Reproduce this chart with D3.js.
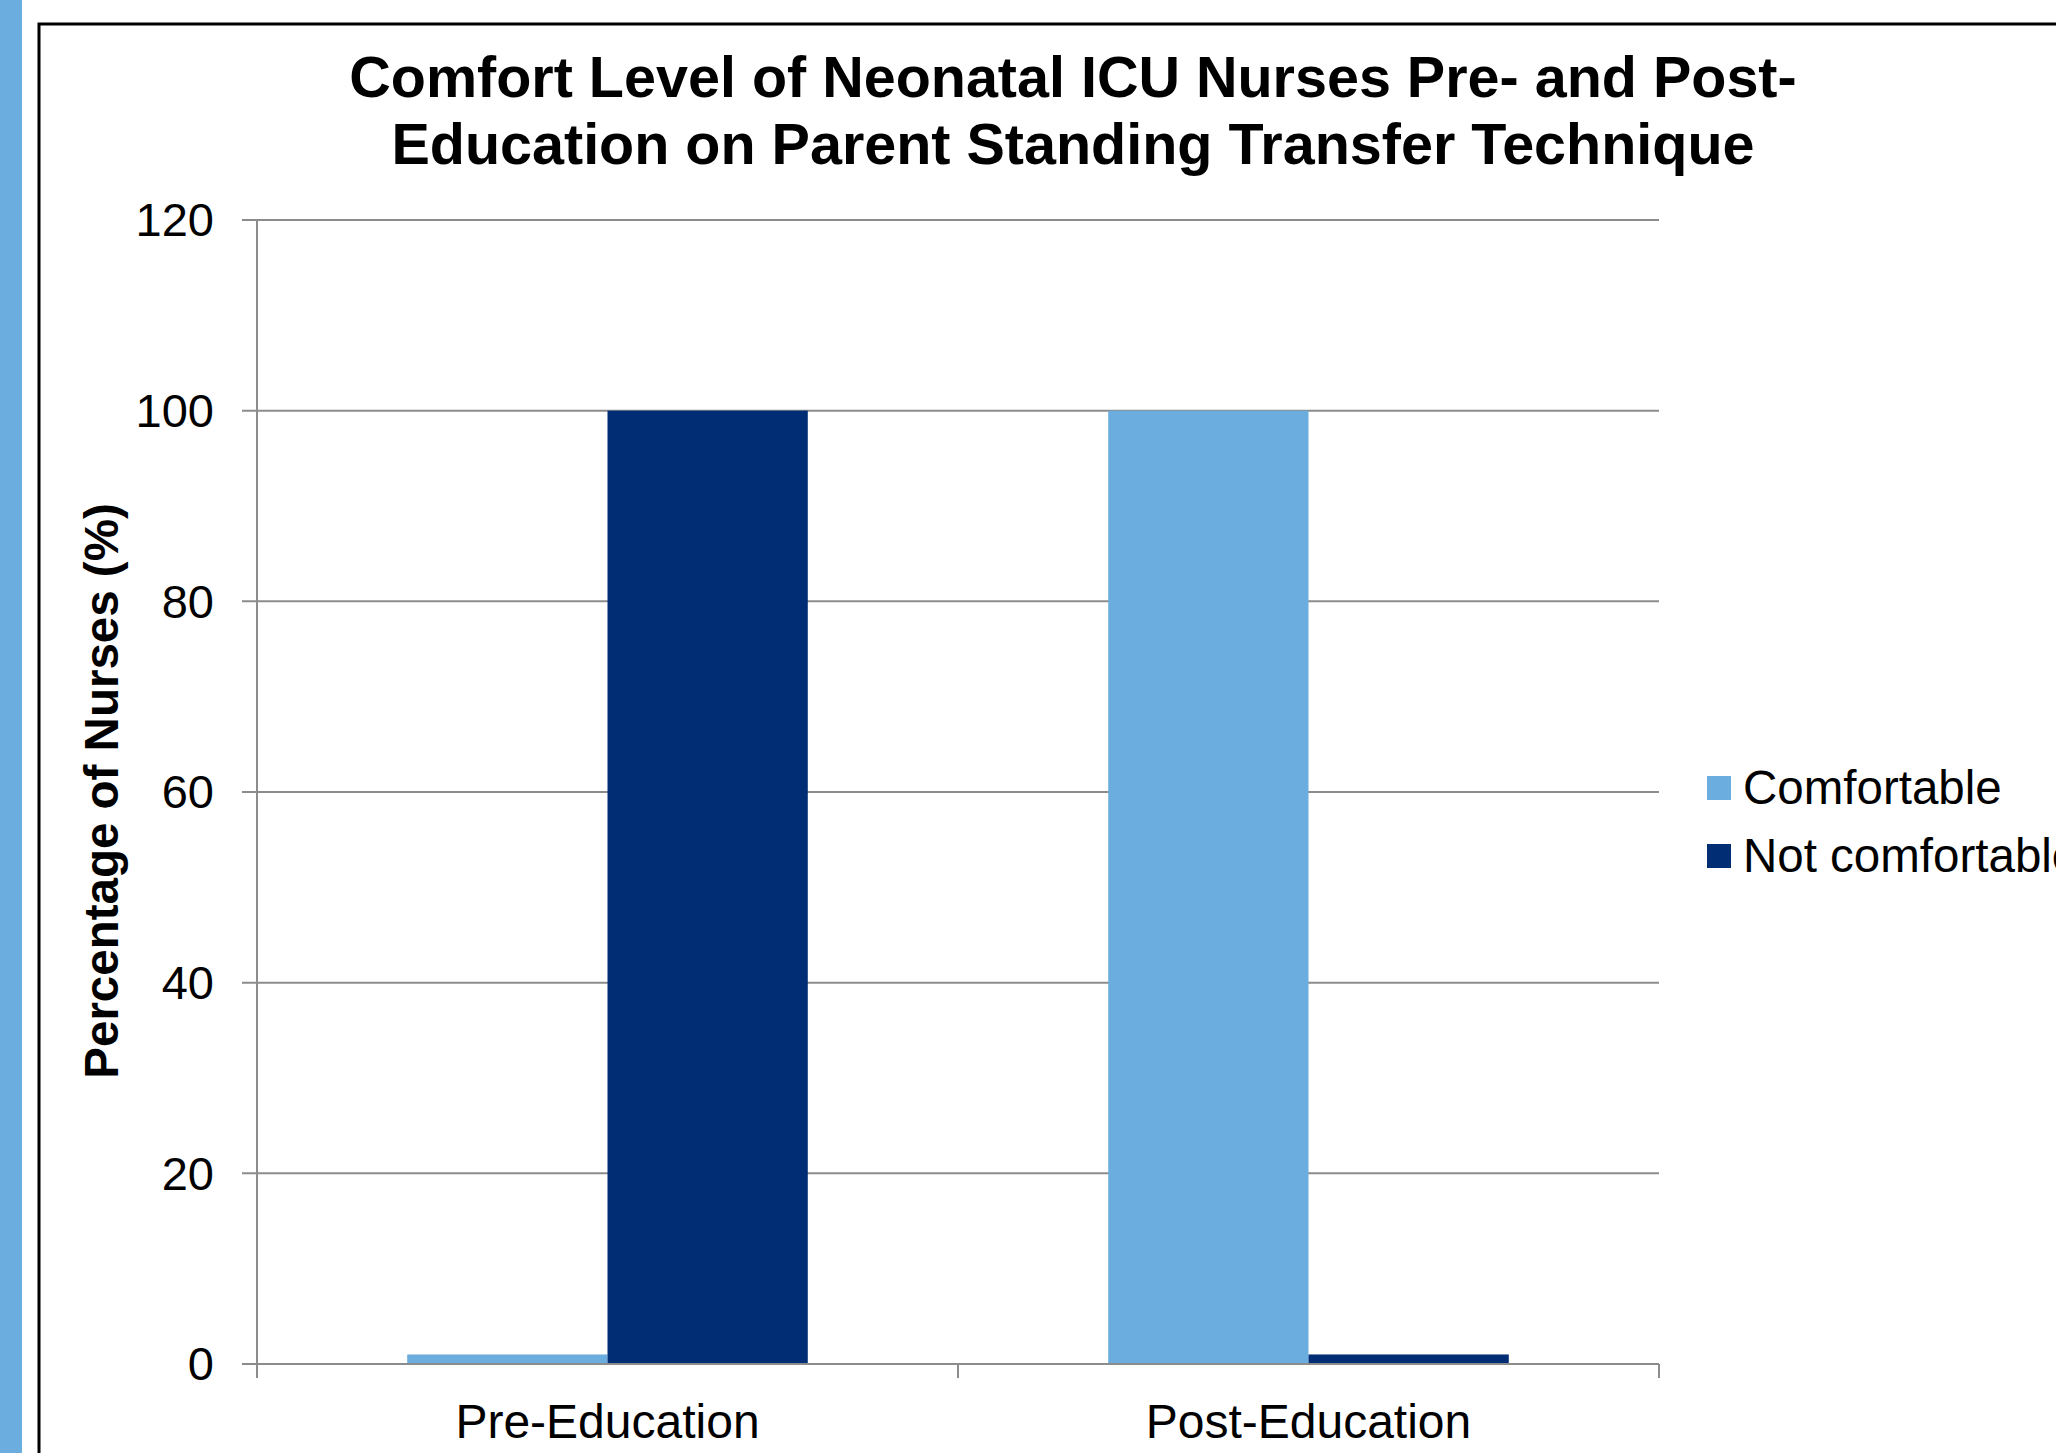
<!DOCTYPE html>
<html lang="en">
<head>
    <meta charset="utf-8">
    <title>Comfort Level of Neonatal ICU Nurses</title>
    <script src="https://d3js.org/d3.v7.min.js"></script>
    <style>
        body { margin: 0; background: #fff; }
        text { font-family: "Liberation Sans", Arial, sans-serif; }
    </style>
</head>
<body>
<div id="chart"></div>
<script>
    // Data
    const categories = ["Pre-Education", "Post-Education"];
    const seriesNames = ["Comfortable", "Not comfortable"];
    const comfortable = [1, 100];
    const notComfortable = [100, 1];
    const yTicks = [0, 20, 40, 60, 80, 100, 120];
    const titleLines = ["Comfort Level of Neonatal ICU Nurses Pre- and Post-",
        "Education on Parent Standing Transfer Technique"];
    const yLabel = "Percentage of Nurses (%)";

    const colors = ["#6CADDF", "#012D74"];
    const W = 2056, H = 1453;
    const plot = {left: 257, right: 1659, top: 220, bottom: 1364};

    const svg = d3.select("#chart")
        .append("svg")
        .attr("width", W)
        .attr("height", H);

    // Left accent strip and frame
    svg.append("rect")
        .attr("x", 0).attr("y", 0)
        .attr("width", 22).attr("height", H)
        .attr("fill", colors[0]);

    svg.append("rect")
        .attr("x", 39).attr("y", 24)
        .attr("width", 2100).attr("height", 1500)
        .attr("fill", "none")
        .attr("stroke", "#000")
        .attr("stroke-width", 3);

    // Scales
    const x0 = d3.scaleBand()
        .domain(categories)
        .range([plot.left, plot.right])
        .paddingInner(0)
        .paddingOuter(0);

    const x1 = d3.scaleBand()
        .domain(seriesNames)
        .range([0, x0.bandwidth()])
        .paddingOuter(0.75)
        .paddingInner(0);

    const y = d3.scaleLinear()
        .domain([0, 120])
        .range([plot.bottom, plot.top]);

    // Gridlines
    svg.append("g")
        .selectAll("line")
        .data(yTicks)
        .join("line")
        .attr("x1", plot.left - 15)
        .attr("x2", plot.right)
        .attr("y1", d => y(d))
        .attr("y2", d => y(d))
        .attr("stroke", "#8c8c8c")
        .attr("stroke-width", 2);

    // Y tick labels
    svg.append("g")
        .selectAll("text")
        .data(yTicks)
        .join("text")
        .attr("x", 214)
        .attr("y", d => y(d))
        .attr("dy", "0.35em")
        .attr("text-anchor", "end")
        .attr("font-size", 47)
        .attr("fill", "#000")
        .text(d => d);

    // Bars
    const rows = categories.map((c, i) => ({
        category: c,
        values: [
            {name: seriesNames[0], value: comfortable[i]},
            {name: seriesNames[1], value: notComfortable[i]}
        ]
    }));

    svg.append("g")
        .selectAll("g")
        .data(rows)
        .join("g")
        .attr("transform", d => `translate(${x0(d.category)},0)`)
        .selectAll("rect")
        .data(d => d.values)
        .join("rect")
        .attr("x", d => x1(d.name))
        .attr("y", d => y(d.value))
        .attr("width", x1.bandwidth())
        .attr("height", d => y(0) - y(d.value))
        .attr("fill", (d, i) => colors[i]);

    // Y axis line
    svg.append("line")
        .attr("x1", plot.left).attr("x2", plot.left)
        .attr("y1", plot.top).attr("y2", plot.bottom)
        .attr("stroke", "#8c8c8c")
        .attr("stroke-width", 2);

    // X axis line and ticks
    svg.append("line")
        .attr("x1", plot.left).attr("x2", plot.right)
        .attr("y1", plot.bottom).attr("y2", plot.bottom)
        .attr("stroke", "#8c8c8c")
        .attr("stroke-width", 2);

    const xTickPos = categories.map(c => x0(c)).concat([plot.right]);
    svg.append("g")
        .selectAll("line")
        .data(xTickPos)
        .join("line")
        .attr("x1", d => d).attr("x2", d => d)
        .attr("y1", plot.bottom).attr("y2", plot.bottom + 14)
        .attr("stroke", "#8c8c8c")
        .attr("stroke-width", 2);

    // X labels
    svg.append("g")
        .selectAll("text")
        .data(categories)
        .join("text")
        .attr("x", d => x0(d) + x0.bandwidth() / 2)
        .attr("y", 1438)
        .attr("text-anchor", "middle")
        .attr("font-size", 48)
        .text(d => d);

    // Title
    svg.append("text")
        .attr("x", 1073)
        .attr("text-anchor", "middle")
        .attr("font-size", 57.5)
        .attr("font-weight", "bold")
        .selectAll("tspan")
        .data(titleLines)
        .join("tspan")
        .attr("x", 1073)
        .attr("y", (d, i) => 97 + i * 67)
        .text(d => d);

    // Y axis title
    svg.append("text")
        .attr("transform", "translate(118,791) rotate(-90)")
        .attr("text-anchor", "middle")
        .attr("font-size", 47.5)
        .attr("font-weight", "bold")
        .text(yLabel);

    // Legend
    const legend = svg.append("g")
        .selectAll("g")
        .data(seriesNames)
        .join("g")
        .attr("transform", (d, i) => `translate(1707,${776 + i * 68})`);

    legend.append("rect")
        .attr("width", 24).attr("height", 24)
        .attr("fill", (d, i) => colors[i]);

    legend.append("text")
        .attr("x", 36)
        .attr("y", 28)
        .attr("font-size", 47.5)
        .text(d => d);
</script>
</body>
</html>
